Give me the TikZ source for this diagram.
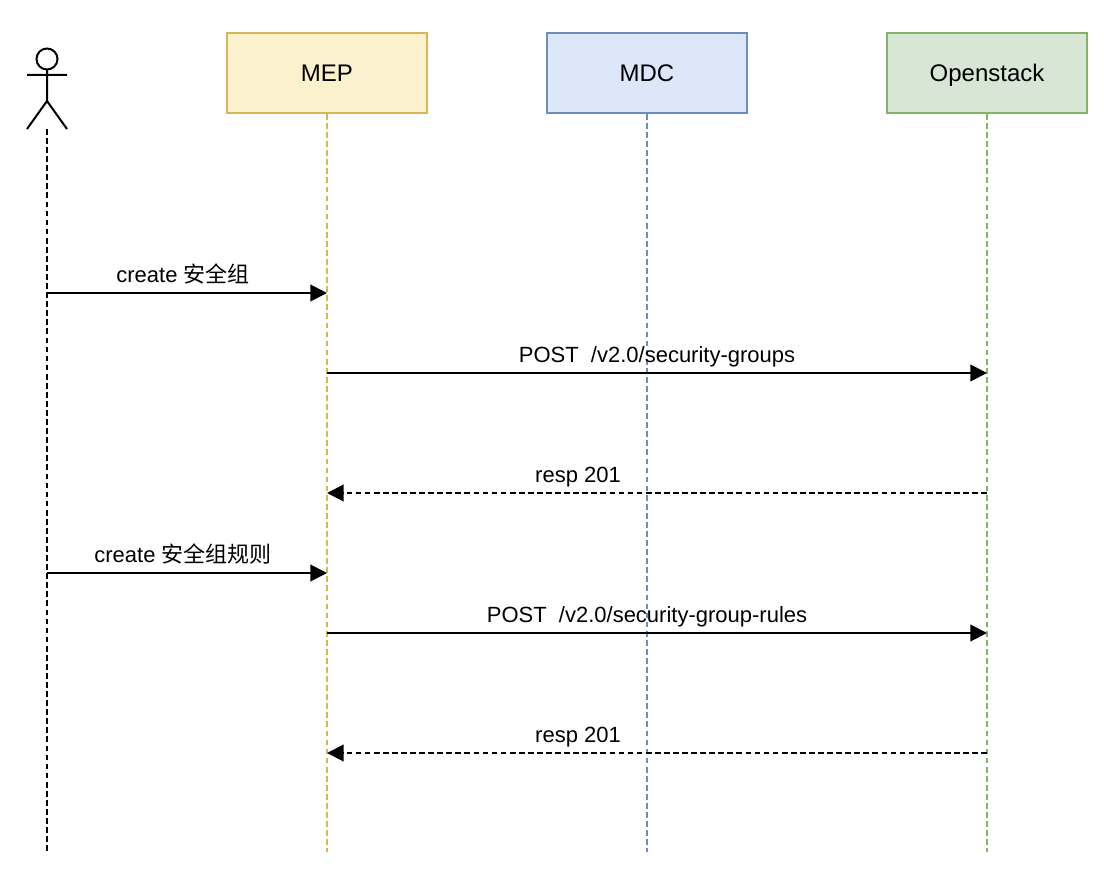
\documentclass[tikz,border=0pt]{standalone}
\usepackage{fontspec}
\setmainfont{Liberation Sans}
\newfontfamily\cjk{Noto Sans CJK SC}
\usetikzlibrary{arrows.meta,positioning,calc}
\definecolor{mepfill}{HTML}{FBF1CD}
\definecolor{mepline}{HTML}{D6B656}
\definecolor{mdcfill}{HTML}{DCE7FA}
\definecolor{mdcline}{HTML}{6C8EBF}
\definecolor{osfill}{HTML}{D8E6D6}
\definecolor{osline}{HTML}{82B366}
\tikzset{st/.style={draw, rectangle, line width=1.5pt, minimum width=150pt, minimum height=60pt, inner sep=0pt, text height=13pt, text depth=0pt, font=\fontsize{18}{22}\selectfont}}
\tikzset{life/.style={line width=1.5pt, dash pattern=on 4.3pt off 2.5pt}}
\tikzset{msg/.style={-{Triangle[length=12.5pt,width=12.5pt]}, line width=1.5pt}}
\tikzset{lbl/.style={inner sep=0pt, anchor=base, font=\fontsize{16.5}{20}\selectfont}}
\begin{document}
\begin{tikzpicture}[x=0.75pt, y=-0.75pt]
\useasboundingbox (0,0) rectangle (1104,874);
\node[st, fill=mepfill, draw=mepline] (MEP) at (327,73) {MEP};
\node[st, fill=mdcfill, draw=mdcline] (MDC) at (647,73) {MDC};
\node[st, fill=osfill, draw=osline] (OS) at (987,73) {Openstack};
% actor
\coordinate (head) at (47,59);
\coordinate (neck) at (47,69.5);
\coordinate (hip) at (47,101);
\coordinate (armL) at (27,75);
\coordinate (armR) at (67,75);
\coordinate (footL) at (27,129);
\coordinate (footR) at (67,129);
\coordinate (U) at (47,129);
\draw[line width=1.5pt] (head) circle (10.5);
\draw[line width=1.5pt] (neck) -- (hip) (armL) -- (armR) (footL) -- (hip) -- (footR);
% lifelines
\coordinate (Ue) at (47,852);
\coordinate (MEPe) at (327,852);
\coordinate (MDCe) at (647,852);
\coordinate (OSe) at (987,852);
\draw[life, draw=black] (U) -- (Ue);
\draw[life, draw=mepline] (MEP) -- (MEPe);
\draw[life, draw=mdcline] (MDC) -- (MDCe);
\draw[life, draw=osline] (OS) -- (OSe);
% anchor points of the messages
\foreach \y in {293,373,493,573,633,753} {
  \coordinate (U\y) at (U |- 0,\y);
  \coordinate (MEP\y) at (MEP |- 0,\y);
  \coordinate (OS\y) at (OS |- 0,\y);
}
% messages
\draw[msg] (U293) -- (MEP293);
\node[lbl] (l1) at (183,282) {create {\cjk 安全组}};
\draw[msg] (MEP373) -- (OS373);
\node[lbl] (l2) at (657,362) {POST\ \ /v2.0/security-groups};
\draw[msg, dash pattern=on 4.3pt off 2.5pt] (OS493) -- (MEP493);
\node[lbl] (l3) at (578,482) {resp 201};
\draw[msg] (U573) -- (MEP573);
\node[lbl] (l4) at (183,562) {create {\cjk 安全组规则}};
\draw[msg] (MEP633) -- (OS633);
\node[lbl] (l5) at (647,622) {POST\ \ /v2.0/security-group-rules};
\draw[msg, dash pattern=on 4.3pt off 2.5pt] (OS753) -- (MEP753);
\node[lbl] (l6) at (578,742) {resp 201};
\end{tikzpicture}
\end{document}
